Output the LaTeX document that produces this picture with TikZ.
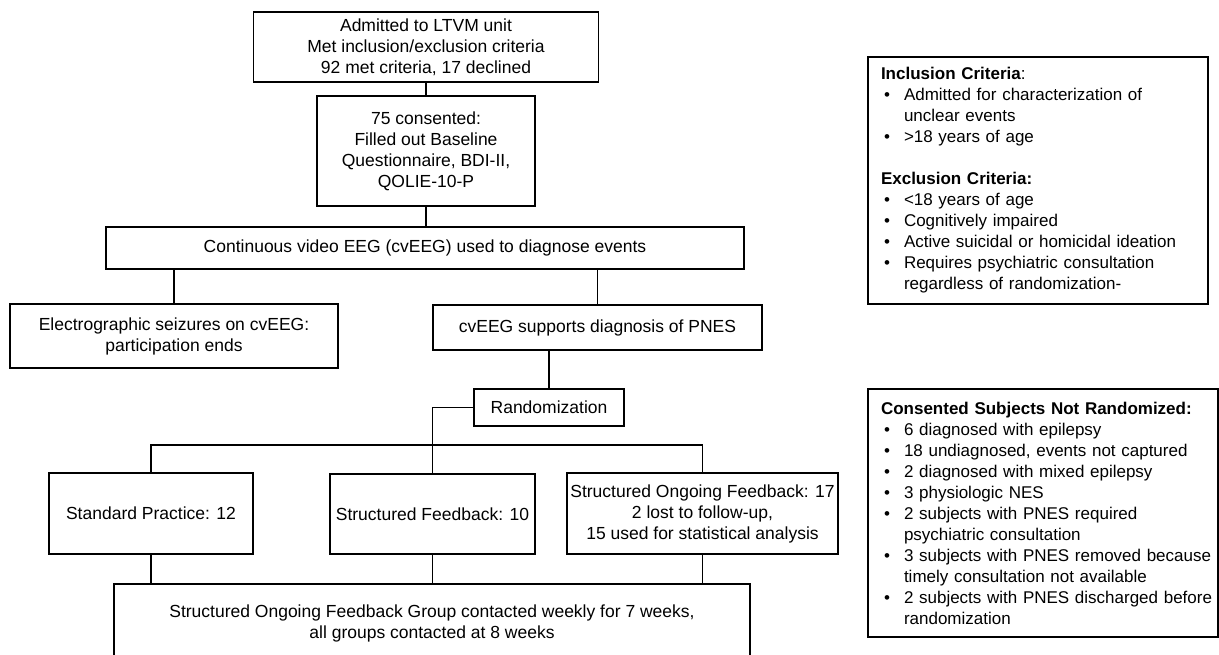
\documentclass[tikz,border=0pt]{standalone}
\usepackage{fontspec}
\setmainfont{Liberation Sans}
\usepackage{tikz}
\tikzset{
	flowbox/.style={draw=black,thick,align=center,inner sep=0pt},
	listbox/.style={draw=black,thick,align=left,inner xsep=6.5pt,inner ysep=0pt,font=\fontsize{8.5}{10.5}\selectfont},
	link/.style={thick}
}
\newcommand{\bul}[1]{\makebox[11.5pt][l]{\hspace{1.5pt}\textbullet}\mbox{#1}}
\newcommand{\cont}[1]{\hspace{11.5pt}\mbox{#1}}

\begin{document}
\begin{tikzpicture}[x=0.5pt,y=-0.5pt,font=\fontsize{8.75}{10.5}\selectfont]
	\clip (0,0) rectangle (1219,654);
	\node[flowbox,minimum width=172.5pt,minimum height=35pt] (admit) at (426,47) {Admitted to LTVM unit\\Met inclusion/exclusion criteria\\92 met criteria, 17 declined};
	\node[flowbox,minimum width=109pt,minimum height=55pt] (consent) at (426,151) {75 consented:\\Filled out Baseline\\Questionnaire, BDI-II,\\QOLIE-10-P};
	\node[flowbox,minimum width=319pt,minimum height=21pt] (cveeg) at (425,248) {Continuous video EEG (cvEEG) used to diagnose events};
	\node[flowbox,minimum width=164pt,minimum height=32pt] (electro) at (174,336) {Electrographic seizures on cvEEG:\\participation ends};
	\node[flowbox,minimum width=164.5pt,minimum height=22.5pt] (pnes) at (597.5,327.5) {cvEEG supports diagnosis of PNES};
	\node[flowbox,minimum width=75pt,minimum height=18.5pt] (random) at (549,407.5) {Randomization};
	\node[flowbox,minimum width=102pt,minimum height=40.5pt] (std) at (151,513.5) {Standard Practice: 12};
	\node[flowbox,minimum width=102.5pt,minimum height=40pt] (sf) at (432.5,514) {Structured Feedback: 10};
	\node[flowbox,minimum width=135.5pt,minimum height=40.5pt] (sof) at (702.5,513.5) {Structured Ongoing Feedback: 17\\2 lost to follow-up,\\15 used for statistical analysis};
	\node[flowbox,minimum width=318pt,minimum height=39.5pt] (bottom) at (432,623.5) {Structured Ongoing Feedback Group contacted weekly for 7 weeks,\\all groups contacted at 8 weeks};
	\node[listbox,text width=157pt,minimum width=170pt,minimum height=123.5pt] (incl) at (1038,180.5) {\textbf{Inclusion Criteria}:\\
		\bul{Admitted for characterization of}\\
		\cont{unclear events}\\
		\bul{>18 years of age}\\[10.5pt]
		\textbf{Exclusion Criteria:}\\
		\bul{<18 years of age}\\
		\bul{Cognitively impaired}\\
		\bul{Active suicidal or homicidal ideation}\\
		\bul{Requires psychiatric consultation}\\
		\cont{regardless of randomization-}};
	\node[listbox,text width=162pt,minimum width=175pt,minimum height=124pt] (notrand) at (1043,513) {\textbf{Consented Subjects Not Randomized:}\\
		\bul{6 diagnosed with epilepsy}\\
		\bul{18 undiagnosed, events not captured}\\
		\bul{2 diagnosed with mixed epilepsy}\\
		\bul{3 physiologic NES}\\
		\bul{2 subjects with PNES required}\\
		\cont{psychiatric consultation}\\
		\bul{3 subjects with PNES removed because}\\
		\cont{timely consultation not available}\\
		\bul{2 subjects with PNES discharged before}\\
		\cont{randomization}};
	\draw[link] (admit) -- (consent);
	\draw[link] (consent.south) -- (consent.south |- cveeg.north);
	\draw[link] (electro.north |- cveeg.south) -- (electro.north);
	\draw[link] (pnes.north |- cveeg.south) -- (pnes.north);
	\draw[link] (random.north |- pnes.south) -- (random.north);
	\coordinate (split) at (432,445);
	\draw[link] (random.west) -| (sf.north);
	\draw[link] (std.north) |- (split) -| (sof.north);
	\draw[link] (std.south) -- (std.south |- bottom.north);
	\draw[link] (sf.south) -- (sf.south |- bottom.north);
	\draw[link] (sof.south) -- (sof.south |- bottom.north);
\end{tikzpicture}
\end{document}
